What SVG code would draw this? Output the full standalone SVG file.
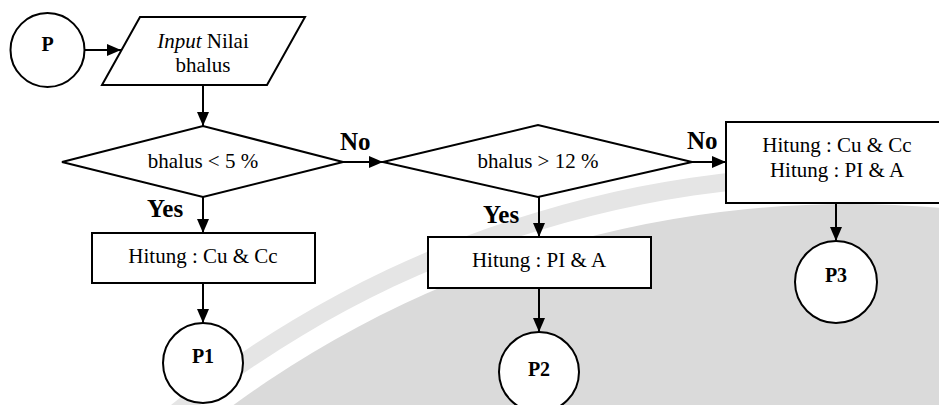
<svg xmlns="http://www.w3.org/2000/svg" width="939" height="405" viewBox="0 0 939 405">
  <defs>
    <marker id="arrow" viewBox="0 0 14 12" refX="14" refY="6" markerWidth="14" markerHeight="12" markerUnits="userSpaceOnUse" orient="auto">
      <path d="M0,0 L14,6 L0,12 Z" fill="#000"/>
    </marker>
  </defs>
  <style>
    .shape { fill: #fff; stroke: #000; stroke-width: 2; }
    .txt { font-family: "Liberation Serif", "Times New Roman", serif; font-size: 21px; fill: #000; text-anchor: middle; }
    .lbl { font-family: "Liberation Serif", "Times New Roman", serif; font-size: 20px; font-weight: bold; fill: #000; text-anchor: middle; }
    .yn { font-family: "Liberation Serif", "Times New Roman", serif; font-size: 25px; font-weight: bold; fill: #000; }
    .edge { fill: none; stroke: #000; stroke-width: 2; marker-end: url(#arrow); }
  </style>

  <!-- page background with faint logo disc -->
  <rect x="0" y="0" width="939" height="405" fill="#fff"/>
  <g id="backdrop">
    <circle cx="850" cy="1250" r="1084" fill="#e5e5e5"/>
    <circle cx="850" cy="1250" r="1066" fill="#fff"/>
    <circle cx="850" cy="1250" r="1046" fill="#dadada"/>
  </g>

  <g id="connectors">
    <line class="edge" x1="85" y1="50" x2="121" y2="50"/>
    <line class="edge" x1="203" y1="85" x2="203" y2="126"/>
    <line class="edge" x1="343" y1="162" x2="383" y2="162"/>
    <line class="edge" x1="692" y1="162" x2="726" y2="162"/>
    <line class="edge" x1="203" y1="197" x2="203" y2="233"/>
    <line class="edge" x1="539" y1="197" x2="539" y2="237"/>
    <line class="edge" x1="203" y1="283" x2="203" y2="323"/>
    <line class="edge" x1="539" y1="288" x2="539" y2="332"/>
    <line class="edge" x1="836" y1="203" x2="836" y2="241"/>
    <text class="yn" x="340" y="150">No</text>
    <text class="yn" x="687" y="149">No</text>
    <text class="yn" x="147" y="217">Yes</text>
    <text class="yn" x="483" y="223">Yes</text>
  </g>

  <g id="start">
    <circle class="shape" cx="47.5" cy="50" r="37"/>
    <text class="lbl" x="47.5" y="51">P</text>
  </g>

  <g id="input">
    <polygon class="shape" points="140,17 305,17 267,85 102,85"/>
    <text class="txt" x="203" y="48"><tspan font-style="italic">Input</tspan> Nilai</text>
    <text class="txt" x="203" y="72">bhalus</text>
  </g>

  <g id="check-low">
    <polygon class="shape" points="62,162 203,126 343,162 203,197"/>
    <text class="txt" x="203" y="168">bhalus &lt; 5 %</text>
  </g>

  <g id="check-high">
    <polygon class="shape" points="383,162 538,125 692,162 538,197"/>
    <text class="txt" x="538" y="168">bhalus &gt; 12 %</text>
  </g>

  <g id="calc-cu-cc">
    <rect class="shape" x="92" y="233" width="223" height="50"/>
    <text class="txt" x="203" y="263">Hitung : Cu &amp; Cc</text>
  </g>

  <g id="calc-pi-a">
    <rect class="shape" x="428" y="237" width="223" height="51"/>
    <text class="txt" x="539" y="267">Hitung : PI &amp; A</text>
  </g>

  <g id="calc-all">
    <rect class="shape" x="726" y="122" width="222" height="81"/>
    <text class="txt" x="837" y="152">Hitung : Cu &amp; Cc</text>
    <text class="txt" x="837" y="177">Hitung : PI &amp; A</text>
  </g>

  <g id="p1">
    <circle class="shape" cx="203" cy="363" r="40"/>
    <text class="lbl" x="203" y="363">P1</text>
  </g>

  <g id="p2">
    <circle class="shape" cx="539" cy="372" r="40"/>
    <text class="lbl" x="539" y="376">P2</text>
  </g>

  <g id="p3">
    <circle class="shape" cx="836" cy="282" r="41"/>
    <text class="lbl" x="836" y="282">P3</text>
  </g>
</svg>
